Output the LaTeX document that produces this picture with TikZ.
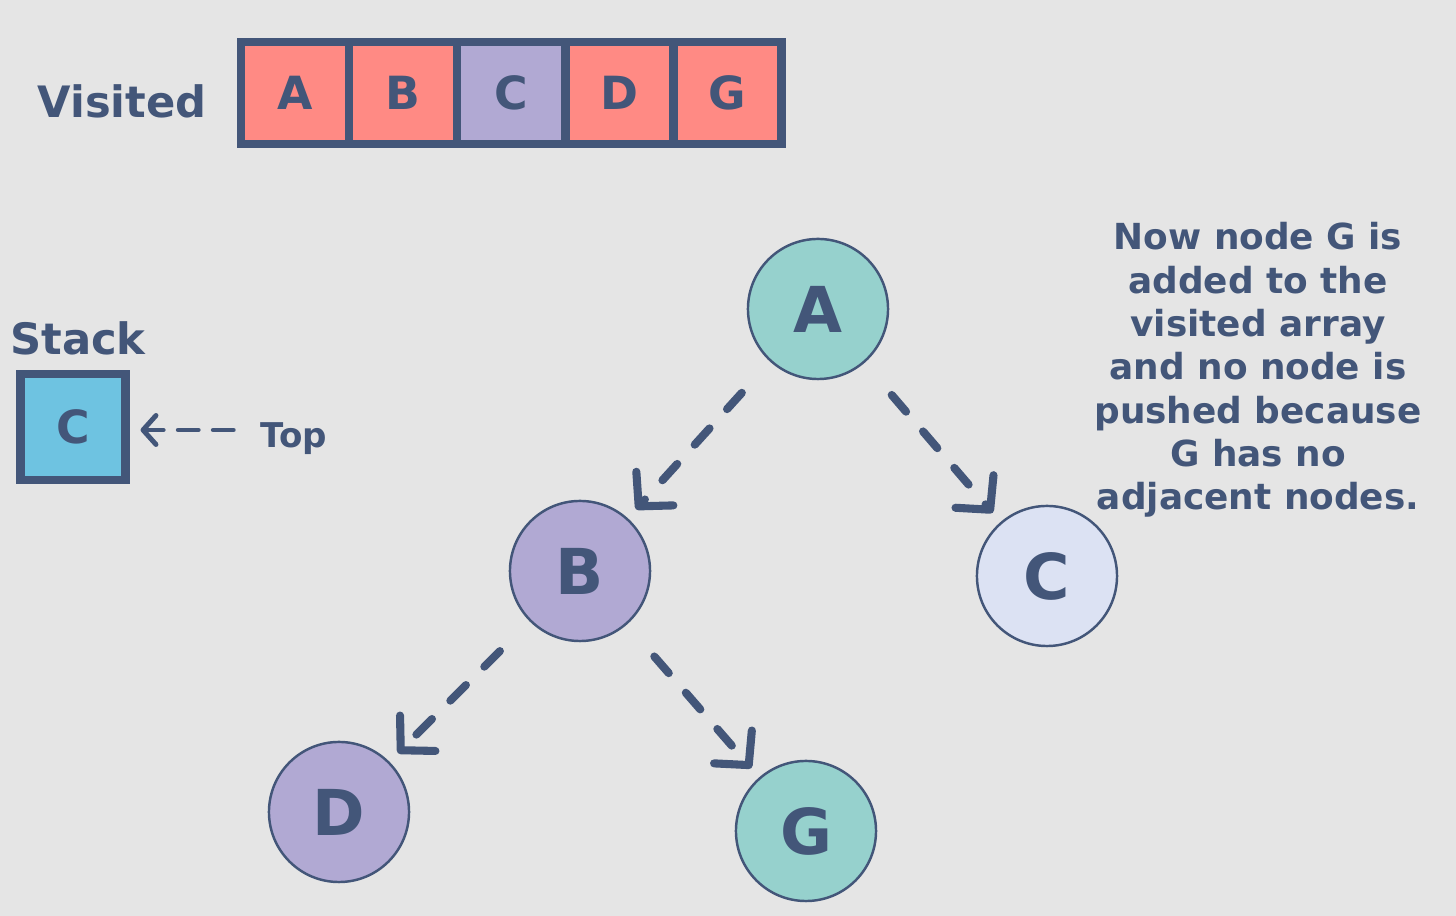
\documentclass[tikz,border=0pt]{standalone}
\usepackage{fontspec}
\setmainfont{DejaVu Sans}
\usetikzlibrary{arrows.meta,positioning}
\definecolor{navy}{HTML}{435679}
\definecolor{salmon}{HTML}{FF8A84}
\definecolor{lilac}{HTML}{B1A9D3}
\definecolor{mint}{HTML}{96D1CD}
\definecolor{sky}{HTML}{6EC3E1}
\definecolor{pale}{HTML}{DCE2F3}
\definecolor{paper}{HTML}{E5E5E5}
\begin{document}
\begin{tikzpicture}[x=0.01cm, y=-0.01cm, font=\bfseries, text=navy,
    cell/.style={draw=navy, line width=2.5pt, minimum width=1.08cm, minimum height=1.02cm,
        inner sep=0pt, outer sep=0pt, font=\fontsize{13}{15}\bfseries},
    vert/.style={circle, draw=navy, line width=0.7pt, minimum size=1.4cm, inner sep=0pt,
        font=\fontsize{18}{20}\bfseries},
    link/.style={navy, line width=2.3pt, line cap=round, dash pattern=on 0.22cm off 0.26cm,
        -{Straight Barb[length=0.24cm, width=0.5cm, round]}, shorten <=0.42cm, shorten >=0.12cm},
    pointer/.style={navy, line width=1.4pt, line cap=round, dash pattern=on 0.2cm off 0.15cm,
        -{Straight Barb[length=0.13cm, width=0.29cm, round]}}]
    \fill[paper] (0,0) rectangle (1456,916);
    \useasboundingbox (0,0) rectangle (1456,916);
    % visited array
    \node[font=\fontsize{12.3}{14}\bfseries] (visited) at (122,101) {Visited};
    \node[cell, fill=salmon] (vA) at (295,93) {A};
    \node[cell, fill=salmon, right=0pt of vA] (vB) {B};
    \node[cell, fill=lilac, right=0pt of vB] (vC) {C};
    \node[cell, fill=salmon, right=0pt of vC] (vD) {D};
    \node[cell, fill=salmon, right=0pt of vD] (vG) {G};
    % stack
    \node[font=\fontsize{12.3}{14}\bfseries] (stacklabel) at (78,338) {Stack};
    \node[cell, fill=sky, minimum width=1.05cm, minimum height=1.06cm] (stack) at (73,427) {C};
    \node[font=\fontsize{9.7}{11}\bfseries] (top) at (294,439) {Top};
    \draw[pointer] ([yshift=0.09cm]top.west) ++(-0.15cm,0) -- ([xshift=0.15cm,yshift=0.09cm]top.west -| stack.east);
    % graph
    \node[vert, fill=mint] (A) at (818,309) {A};
    \node[vert, fill=lilac] (B) at (580,571) {B};
    \node[vert, fill=pale] (C) at (1047,576) {C};
    \node[vert, fill=lilac] (D) at (339,812) {D};
    \node[vert, fill=mint] (G) at (806,831) {G};
    \draw[link] (A) -- (B);
    \draw[link] (A) -- (C);
    \draw[link] (B) -- (D);
    \draw[link] (B) -- (G);
    \node[align=center, font=\fontsize{10.2}{12.3}\bfseries] (note) at (1258,370)
        {Now node G is\\ added to the\\ visited array\\ and no node is\\ pushed because\\ G has no\\ adjacent nodes.};
\end{tikzpicture}
\end{document}
